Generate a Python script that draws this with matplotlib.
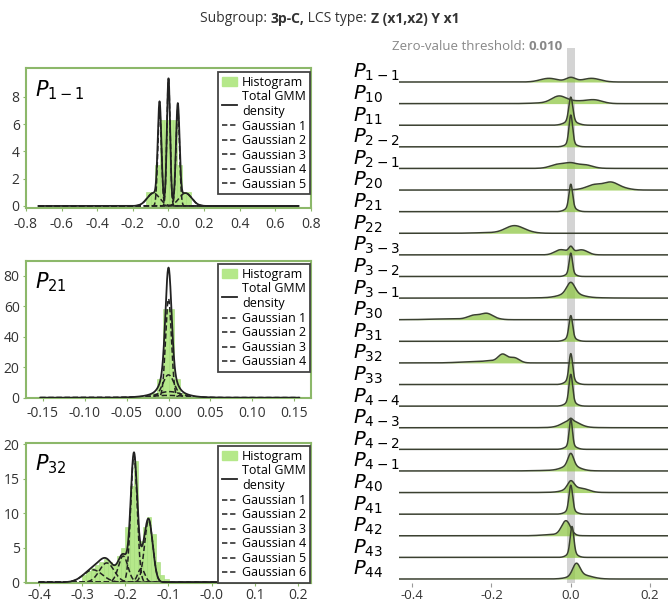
import numpy as np
import matplotlib
matplotlib.use("Agg")
import matplotlib.pyplot as plt
from matplotlib.patches import Patch
from matplotlib.lines import Line2D

plt.rcParams['font.family'] = ['Open Sans', 'DejaVu Sans']
plt.rcParams['axes.unicode_minus'] = False
plt.rcParams['mathtext.fontset'] = 'dejavusans'

# ---- left panels: histogram bins + GMM components (mean, sd, peak height)
p11_edges = [-0.125, -0.1, -0.075, -0.05, -0.025, 0.0, 0.025, 0.05, 0.075, 0.1, 0.125]
p11_hist = [1.0, 1.0, 3.0, 6.3, 6.3, 6.3, 6.3, 3.0, 1.0, 1.0]
p11_means = [-0.05, 0.0, 0.052, -0.085, 0.095]
p11_sds = [0.010, 0.009, 0.010, 0.035, 0.035]
p11_peaks = [7.1, 9.3, 7.1, 0.95, 0.95]

p21_edges = [-0.021, -0.014, -0.007, 0.0, 0.007, 0.014, 0.021]
p21_hist = [3.0, 12.5, 58.0, 58.0, 12.5, 3.0]
p21_means = [0.0, 0.0, 0.001, -0.002]
p21_sds = [0.0035, 0.007, 0.014, 0.025]
p21_peaks = [65.0, 15.0, 4.0, 1.5]

p32_edges = [-0.30, -0.29, -0.28, -0.27, -0.26, -0.25, -0.24, -0.23, -0.22, -0.21, -0.20,
             -0.19, -0.18, -0.17, -0.16, -0.15, -0.14, -0.13, -0.12, -0.11, -0.10]
p32_hist = [1.0, 1.6, 2.0, 2.5, 3.0, 3.3, 3.0, 2.6, 3.8, 5.0,
            8.0, 14.0, 17.5, 6.0, 8.0, 9.5, 7.0, 3.0, 1.0, 0.5]
p32_means = [-0.275, -0.243, -0.205, -0.18, -0.163, -0.146]
p32_sds = [0.022, 0.017, 0.011, 0.0075, 0.008, 0.0095]
p32_peaks = [1.8, 2.8, 3.8, 18.3, 2.0, 9.0]

# ---- right panel: ridge labels and components (mean, sd, height in row units)
ridge_labels = ['1-1', '10', '11', '2-2', '2-1', '20', '21', '22', '3-3', '3-2', '3-1', '30',
                '31', '32', '33', '4-4', '4-3', '4-2', '4-1', '40', '41', '42', '43', '44']
ridge_parts = [
    [(-0.055, 0.022, 0.17), (0.0, 0.012, 0.20), (0.052, 0.022, 0.17)],
    [(-0.03, 0.018, 0.30), (0.015, 0.025, 0.10), (0.06, 0.02, 0.16), (-0.05, 0.04, 0.04)],
    [(0.0, 0.005, 1.10), (0.0, 0.015, 0.20)],
    [(0.0, 0.0045, 1.30), (0.0, 0.012, 0.17)],
    [(-0.033, 0.018, 0.17), (0.0, 0.015, 0.20), (0.036, 0.018, 0.15), (0.0, 0.05, 0.02)],
    [(0.06, 0.018, 0.23), (0.10, 0.018, 0.33), (0.13, 0.02, 0.08), (0.03, 0.02, 0.03)],
    [(0.0, 0.0045, 1.05), (0.0, 0.012, 0.22)],
    [(-0.143, 0.022, 0.33), (-0.11, 0.02, 0.05), (-0.20, 0.04, 0.03)],
    [(0.0, 0.005, 0.24), (-0.028, 0.014, 0.19), (0.03, 0.014, 0.19), (0.0, 0.02, 0.12)],
    [(0.0, 0.004, 0.90), (0.0, 0.01, 0.18)],
    [(0.0, 0.01, 0.50), (0.0, 0.025, 0.20), (0.0, 0.06, 0.03)],
    [(-0.244, 0.015, 0.18), (-0.212, 0.014, 0.26), (-0.30, 0.05, 0.04), (-0.19, 0.015, 0.04)],
    [(0.0, 0.0045, 1.00), (0.0, 0.012, 0.19)],
    [(-0.172, 0.011, 0.36), (-0.143, 0.013, 0.24), (-0.20, 0.02, 0.08), (-0.25, 0.035, 0.05)],
    [(0.0, 0.0045, 1.20), (0.0, 0.012, 0.23)],
    [(0.0, 0.0045, 1.25), (0.0, 0.012, 0.22)],
    [(0.0, 0.004, 0.10), (0.0, 0.02, 0.32), (0.0, 0.05, 0.02)],
    [(0.0, 0.004, 1.20), (0.0, 0.012, 0.19)],
    [(0.0, 0.007, 0.55), (0.0, 0.02, 0.24), (-0.03, 0.05, 0.03)],
    [(0.0, 0.008, 0.35), (0.005, 0.02, 0.18), (0.035, 0.015, 0.10), (0.0, 0.05, 0.02)],
    [(0.0, 0.0045, 1.15), (0.0, 0.012, 0.19)],
    [(-0.012, 0.011, 0.66), (-0.04, 0.03, 0.06)],
    [(0.003, 0.0045, 1.20), (0.003, 0.011, 0.23)],
    [(0.014, 0.009, 0.55), (0.025, 0.025, 0.20)],
]
threshold = 0.010

hist_color = '#b5e88a'
frame_color = '#8cb86a'
dark = '#222222'
dash = (0, (3.5, 1.8))


def gauss(x, m, s, h):
    return h * np.exp(-0.5 * ((x - m) / s) ** 2)


fig = plt.figure(figsize=(6.68, 6.03), dpi=100)
W, H = 668.0, 603.0


def px_axes(left, top, right, bottom):
    return fig.add_axes([left / W, 1 - bottom / H, (right - left) / W, (bottom - top) / H])


def gmm_panel(ax, name, edges, hist, means, sds, peaks, xr, xlim, ylim, xticks, yticks,
              xfmt, xpad):
    edges = np.array(edges)
    ax.bar(edges[:-1], hist, width=np.diff(edges), align='edge', color=hist_color,
           edgecolor='#a3d979', linewidth=0.4, zorder=1)
    x = np.linspace(xr[0], xr[1], 1500)
    comps = [gauss(x, m, s, h) for m, s, h in zip(means, sds, peaks)]
    ax.plot(x, np.sum(comps, axis=0), color=dark, lw=1.3, zorder=3)
    for c in comps:
        ax.plot(x, c, color=dark, lw=1.1, ls=dash, zorder=2)
    ax.set_xlim(xlim)
    ax.set_ylim(ylim)
    ax.set_xticks(xticks)
    ax.set_xticklabels([xfmt % t for t in xticks])
    ax.set_yticks(yticks)
    for sp in ax.spines.values():
        sp.set_color(frame_color)
        sp.set_linewidth(1.5)
    ax.tick_params(labelsize=10, length=2.5, color=frame_color, labelcolor='#333333')
    ax.tick_params(axis='x', pad=xpad)
    ax.tick_params(axis='y', pad=2)
    ax.text(0.03, 0.93, name, transform=ax.transAxes, fontsize=15, va='top', ha='left')
    handles = [Patch(color=hist_color), Line2D([], [], color=dark, lw=1.3)]
    labels = ['Histogram', 'Total GMM\ndensity']
    for i in range(len(means)):
        handles.append(Line2D([], [], color=dark, lw=1.1, ls=dash))
        labels.append('Gaussian %d' % (i + 1))
    leg = ax.legend(handles, labels, loc='upper right', bbox_to_anchor=(0.997, 0.975),
                    borderaxespad=0, fontsize=9, handlelength=1.2, handletextpad=0.4,
                    labelspacing=0.12, borderpad=0.3, fancybox=False, framealpha=1)
    leg.get_frame().set_edgecolor('#444444')
    leg.get_frame().set_linewidth(1.3)


ax1 = px_axes(26, 68.3, 311, 208.3)
gmm_panel(ax1, r'$P_{1-1}$', p11_edges, p11_hist, p11_means, p11_sds, p11_peaks,
          (-0.73, 0.73), (-0.8, 0.8), (-0.17, 10.1), np.arange(-0.8, 0.81, 0.2),
          [0, 2, 4, 6, 8], '%.1f', 4)

ax2 = px_axes(26, 260.7, 311, 398.3)
gmm_panel(ax2, r'$P_{21}$', p21_edges, p21_hist, p21_means, p21_sds, p21_peaks,
          (-0.153, 0.156), (-0.17, 0.17), (-0.4, 90), np.arange(-0.15, 0.151, 0.05),
          [0, 20, 40, 60, 80], '%.2f', 3)

ax3 = px_axes(26, 442.7, 311, 583.3)
gmm_panel(ax3, r'$P_{32}$', p32_edges, p32_hist, p32_means, p32_sds, p32_peaks,
          (-0.4, 0.2), (-0.43, 0.23), (-0.15, 20.2), np.arange(-0.4, 0.21, 0.1),
          [0, 5, 10, 15, 20], '%.1f', 1)

# ---- ridgeline panel
axr = px_axes(399, 48, 668, 583)
xs = np.linspace(-0.433, 0.245, 1500)
n = len(ridge_labels)
axr.axvspan(-threshold, threshold, color='#d4d4d4', lw=0, zorder=1)
for i, (lab, parts) in enumerate(zip(ridge_labels, ridge_parts)):
    base = -i
    y = np.sum([gauss(xs, m, s, h) for m, s, h in parts], axis=0)
    z = 2 + i * 3
    axr.fill_between(xs, base, base + y, color='#8cc640', alpha=0.72, lw=0, zorder=z)
    axr.plot(xs, base + y, color='#3a4030', lw=1.1, zorder=z + 1)
    axr.text(-0.171, base + 0.18, r'$P_{%s}$' % lab, transform=axr.get_yaxis_transform(),
             fontsize=14, ha='left', va='baseline', clip_on=False)
axr.set_xlim(-0.433, 0.245)
axr.set_ylim(-(n - 1) - 0.185, 1.574)
axr.set_yticks([])
axr.set_xticks([-0.4, -0.2, 0.0, 0.2])
axr.set_xticklabels(['-0.4', '-0.2', '0.0', '0.2'])
axr.tick_params(axis='x', labelsize=9.5, length=3, color='#999999', labelcolor='#333333', pad=1.5)
for sp in axr.spines.values():
    sp.set_visible(False)

# ---- threshold label (grey, partly bold)
t = fig.text(392 / W, 1 - 47 / H, 'Zero-value threshold: ', fontsize=9.5, color='#888888',
             va='center', ha='left')
axr.annotate('0.010', xy=(1, 0), xycoords=t, va='bottom', ha='left', fontsize=9.5,
             color='#888888', fontweight='bold', annotation_clip=False)

# ---- title with bold parts
title_parts = [('Subgroup: ', 'normal'), ('3p-C,', 'bold'), (' LCS type: ', 'normal'),
               ('Z (x1,x2) Y x1', 'bold')]
t = fig.text(200 / W, 1 - 18 / H, title_parts[0][0], fontsize=10, color='#333333',
             va='center', ha='left', fontweight=title_parts[0][1])
for s, w in title_parts[1:]:
    t = ax1.annotate(s, xy=(1, 0), xycoords=t, va='bottom', ha='left', fontsize=10,
                     color='#333333', fontweight=w, annotation_clip=False)

fig.savefig('out.png', dpi=100)
